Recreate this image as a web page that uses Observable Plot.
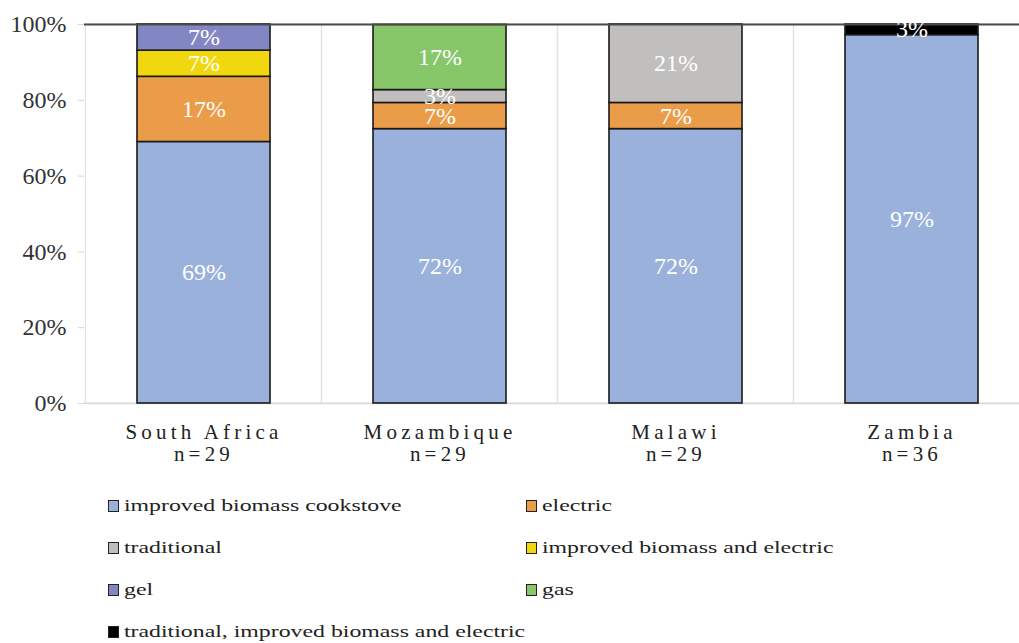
<!DOCTYPE html>
<html>
<head>
<meta charset="utf-8">
<script src="https://cdn.jsdelivr.net/npm/d3@7"></script>
<script src="https://cdn.jsdelivr.net/npm/@observablehq/plot@0.6"></script>
<style>
  html, body { margin: 0; padding: 0; background: #fff; overflow: hidden; }
  #chart svg { display: block; }
  #chart g[aria-label="x-axis tick label"] text { letter-spacing: 4.2px; }
  .legend {
    font-size: 17px;
    color: #222;
    display: grid;
    grid-template-columns: 418px auto;
    grid-auto-rows: 42px;
    padding-left: 108px;
    padding-top: 15px;
  }
  .legend .item { display: flex; align-items: center; }
  .legend .sw { width: 9px; height: 10px; border: 1px solid #222; margin-right: 5px; flex: none; }
  .legend .lab { display: inline-block; transform: scaleX(1.4); transform-origin: 0 50%; white-space: nowrap; }
</style>
</head>
<body>
<div id="chart"></div>
<div class="legend" id="legend"></div>
<script>
// ---- data ----
const countries = ["South Africa", "Mozambique", "Malawi", "Zambia"];
const sampleSizes = [29, 29, 29, 36];
const stoveTypes = [
  "improved biomass cookstove",
  "electric",
  "traditional",
  "improved biomass and electric",
  "gel",
  "gas",
  "traditional, improved biomass and electric"
];
const stoveColors = ["#9ab1db", "#eb9c48", "#c0bfbd", "#f1d70e", "#8287c3", "#88c66a", "#000000"];
// percentage of households per country (South Africa, Mozambique, Malawi, Zambia)
const improvedBiomassCookstove = [69.0, 72.4, 72.4, 97.2];
const electric = [17.2, 6.9, 6.9, 0];
const traditional = [0, 3.4, 20.7, 0];
const improvedBiomassAndElectric = [6.9, 0, 0, 0];
const gel = [6.9, 0, 0, 0];
const gas = [0, 17.2, 0, 0];
const traditionalImprovedBiomassAndElectric = [0, 0, 0, 2.8];
const yTicks = [0, 20, 40, 60, 80, 100];

const seriesValues = [improvedBiomassCookstove, electric, traditional, improvedBiomassAndElectric, gel, gas, traditionalImprovedBiomassAndElectric];
const rows = [];
stoveTypes.forEach((t, si) => {
  countries.forEach((c, ci) => {
    const v = seriesValues[si][ci];
    if (v > 0) rows.push({country: c, type: t, value: v});
  });
});
const nOf = new Map(countries.map((c, i) => [c, sampleSizes[i]]));

const serif = "Liberation Serif, Times New Roman, serif";
const step = 236.7;
const bw = 133.5;
const gap = (step - bw) / 2;
const x0 = 84.5;

const chart = Plot.plot({
  width: 1019,
  height: 470,
  marginLeft: 84,
  marginRight: 0,
  marginTop: 24,
  marginBottom: 67,
  style: {fontFamily: serif, color: "#222", background: "#fff"},
  x: {domain: countries, range: [x0, x0 + 4 * step], paddingInner: 1 - bw / step, paddingOuter: (1 - bw / step) / 2},
  y: {domain: [0, 100]},
  color: {domain: stoveTypes, range: stoveColors},
  marks: [
    // vertical light gridlines at band boundaries
    Plot.barY(countries, {x: d => d, y1: 0, y2: 100, fill: "none", stroke: "#e2e2e2", strokeWidth: 1.2, insetLeft: -gap, insetRight: -gap}),
    Plot.ruleY([0], {stroke: "#dcdcdc", strokeWidth: 1.5}),
    Plot.barY(rows, {x: "country", y: "value", fill: "type", z: "type", order: stoveTypes, stroke: "#1a1a1a", strokeWidth: 1.6}),
    Plot.ruleY([100], {stroke: "#4a4a4a", strokeWidth: 2}),
    Plot.text(rows, Plot.stackY({x: "country", y: "value", z: "type", order: stoveTypes, text: d => Math.round(d.value) + "%", fill: "white", fontSize: 24, fontFamily: serif})),
    Plot.axisY({ticks: yTicks, tickFormat: d => d + "%", tickSize: 6, tickPadding: 12, stroke: "#d4d4d4", fill: "#333", fontSize: 24, label: null}),
    Plot.axisX({tickSize: 0, tickPadding: 20, fontSize: 21, lineHeight: 1.05, fill: "#222", label: null, tickFormat: d => d + "\nn=" + nOf.get(d)})
  ]
});
document.getElementById("chart").appendChild(chart);

// legend
const legend = document.getElementById("legend");
legend.style.fontFamily = serif;
stoveTypes.forEach((t, i) => {
  const item = document.createElement("div");
  item.className = "item";
  const sw = document.createElement("span");
  sw.className = "sw";
  sw.style.background = stoveColors[i];
  const label = document.createElement("span");
  label.className = "lab";
  label.style.fontFamily = serif;
  label.textContent = t;
  item.appendChild(sw);
  item.appendChild(label);
  legend.appendChild(item);
});
</script>
</body>
</html>
